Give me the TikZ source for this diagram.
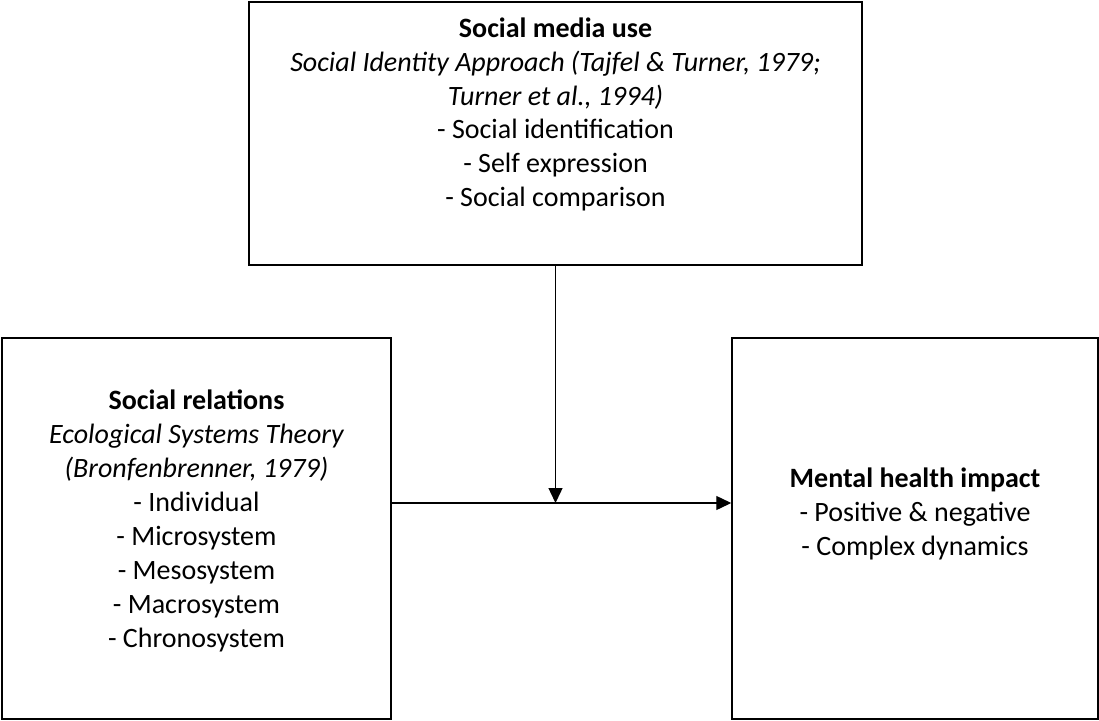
\documentclass[tikz,border=0pt]{standalone}
\usepackage{fontspec}
\setmainfont{Carlito}
\usetikzlibrary{arrows.meta}
\begin{document}
\begin{tikzpicture}[x=1pt,y=-1pt,
  box/.style={draw=black,line width=1.5pt,inner sep=0pt},
  txt/.style={anchor=base,inner sep=0pt,font=\fontsize{28}{34}\selectfont},
  ttl/.style={txt,font=\fontsize{28}{34}\selectfont\bfseries},
  itl/.style={txt,font=\fontsize{28}{34}\selectfont\itshape},
  conn/.style={line width=1.4pt,-{Triangle[length=15pt,width=14pt]}}]
\useasboundingbox (0,0) rectangle (1099,720);
% boxes
\node[box,minimum width=613pt,minimum height=263pt] (media) at (555.5,133.5) {};
\node[box,minimum width=389pt,minimum height=381pt] (social) at (196.5,528.5) {};
\node[box,minimum width=366pt,minimum height=381pt] (health) at (915,528.5) {};
% top box text
\node[ttl] (m1) at (555.5,37.5) {Social media use};
\node[itl] (m2) at (555.5,71.3) {Social Identity Approach (Tajfel \& Turner, 1979;};
\node[itl] (m3) at (555.5,105.1) {Turner et al., 1994)};
\node[txt] (m4) at (555.5,138.9) {- Social identification};
\node[txt] (m5) at (555.5,172.7) {- Self expression};
\node[txt] (m6) at (555.5,206.5) {- Social comparison};
% left box text
\node[ttl] (s1) at (196.5,409) {Social relations};
\node[itl] (s2) at (196.5,443) {Ecological Systems Theory};
\node[itl] (s3) at (196.5,477) {(Bronfenbrenner, 1979)};
\node[txt] (s4) at (196.5,511) {- Individual};
\node[txt] (s5) at (196.5,545) {- Microsystem};
\node[txt] (s6) at (196.5,579) {- Mesosystem};
\node[txt] (s7) at (196.5,613) {- Macrosystem};
\node[txt] (s8) at (196.5,647) {- Chronosystem};
% right box text
\node[ttl] (h1) at (915,487) {Mental health impact};
\node[txt] (h2) at (915,521) {- Positive \& negative};
\node[txt] (h3) at (915,555) {- Complex dynamics};
% connectors
\coordinate (j) at (555.5,503);
\draw[conn] (media.south) -- (j);
\draw[conn] (social.east |- j) -- (health.west |- j);
\end{tikzpicture}
\end{document}
